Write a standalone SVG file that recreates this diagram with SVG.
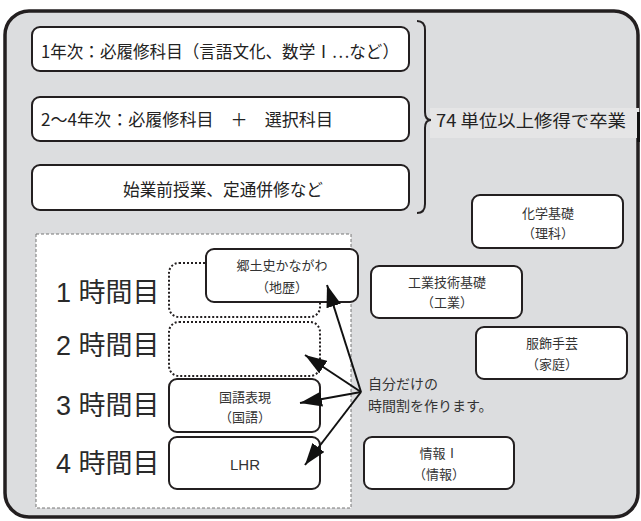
<svg xmlns="http://www.w3.org/2000/svg" width="641" height="521" viewBox="0 0 641 521">
<defs>
<style>
.box{fill:#fff;stroke:#231f20;stroke-width:2}
.slot{fill:#fff;stroke:#231f20;stroke-width:2;stroke-dasharray:2 2}
.t{font-family:'Noto Sans CJK JP','Liberation Sans',sans-serif;fill:#222}
.n{font-family:'Liberation Sans','Noto Sans CJK JP',sans-serif;fill:#333;font-size:13px;text-anchor:middle}
.m{font-family:'Liberation Sans','Noto Sans CJK JP',sans-serif;fill:#333;font-size:14px}
.p{font-family:'Liberation Sans','Noto Sans CJK JP',sans-serif;fill:#2a2a2a;font-size:27px}
.c{stroke:#111;stroke-width:2;fill:none;marker-end:url(#ah)}
</style>
<marker id="ah" viewBox="0 0 22 15" refX="22" refY="7.5" markerWidth="22" markerHeight="15" markerUnits="userSpaceOnUse" orient="auto">
<path d="M0,0 L22,7.5 L0,15 z" fill="#111"/>
</marker>
</defs>
<g id="frame">
<rect x="5" y="11" width="633" height="506" rx="24" fill="#dcdddf" stroke="#231f20" stroke-width="3.5"/>
<rect x="430" y="108" width="209" height="30" fill="#e5e5e6"/>
<line x1="638.5" y1="112" x2="638.5" y2="142" stroke="#111" stroke-width="3"/>
</g>
<g id="year1">
<rect class="box" x="32" y="27" width="377" height="44" rx="8"/>
<text class="t" x="41" y="58" font-size="17" textLength="358" lengthAdjust="spacingAndGlyphs">1年次：必履修科目（言語文化、数学Ⅰ…など）</text>
</g>
<g id="year2">
<rect class="box" x="32" y="97" width="377" height="44" rx="8"/>
<text class="t" x="41" y="126" font-size="17" textLength="292" lengthAdjust="spacingAndGlyphs">2〜4年次：必履修科目　＋　選択科目</text>
</g>
<g id="extra">
<rect class="box" x="32" y="165" width="377" height="45" rx="8"/>
<text class="t" x="223" y="196" font-size="17" text-anchor="middle" textLength="200" lengthAdjust="spacingAndGlyphs">始業前授業、定通併修など</text>
</g>
<g id="brace">
<path d="M417,21 Q425,21 425,30 L425,112 Q425,120 431,120 Q425,120 425,128 L425,204 Q425,213 417,213" fill="none" stroke="#231f20" stroke-width="2"/>
</g>
<g id="graduate">
<text class="t" x="436" y="127" font-size="17" textLength="190" lengthAdjust="spacingAndGlyphs">74 単位以上修得で卒業</text>
</g>
<g id="timetable">
<rect x="36" y="234" width="315" height="274" fill="#fff" stroke="#777" stroke-width="1" stroke-dasharray="3 2"/>
<text class="p" x="56" y="302">1 時間目</text>
<text class="p" x="56" y="355">2 時間目</text>
<text class="p" x="56" y="415">3 時間目</text>
<text class="p" x="56" y="473">4 時間目</text>
</g>
<g id="slot1"><rect class="slot" x="169" y="263" width="151" height="54" rx="10"/></g>
<g id="slot2"><rect class="slot" x="169" y="322" width="151" height="54" rx="10"/></g>
<g id="kyodoshi">
<rect class="box" x="206" y="249" width="152" height="53" rx="8"/>
<text class="n" x="282" y="270">郷土史かながわ</text>
<text class="n" x="282" y="292">（地歴）</text>
</g>
<g id="kokugo">
<rect class="box" x="169" y="379" width="151" height="53" rx="8"/>
<text class="n" x="245" y="402">国語表現</text>
<text class="n" x="245" y="422">（国語）</text>
</g>
<g id="lhr">
<rect class="box" x="169" y="437" width="151" height="52" rx="8"/>
<text class="n" x="245" y="470" style="font-size:15px">LHR</text>
</g>
<g id="kagaku">
<rect class="box" x="472" y="195" width="151" height="53" rx="8"/>
<text class="n" x="548" y="218">化学基礎</text>
<text class="n" x="548" y="238">（理科）</text>
</g>
<g id="kogyo">
<rect class="box" x="371" y="266" width="151" height="52" rx="8"/>
<text class="n" x="447" y="287">工業技術基礎</text>
<text class="n" x="447" y="307">（工業）</text>
</g>
<g id="fukushoku">
<rect class="box" x="476" y="327" width="151" height="52" rx="8"/>
<text class="n" x="552" y="348">服飾手芸</text>
<text class="n" x="552" y="369">（家庭）</text>
</g>
<g id="joho">
<rect class="box" x="364" y="437" width="150" height="52" rx="8"/>
<text class="n" x="439" y="458">情報Ⅰ</text>
<text class="n" x="439" y="479">（情報）</text>
</g>
<g id="note">
<text class="m" x="368" y="389">自分だけの</text>
<text class="m" x="368" y="411">時間割を作ります。</text>
</g>
<g id="connectors">
<line class="c" x1="361" y1="392" x2="327" y2="285"/>
<line class="c" x1="361" y1="392" x2="305" y2="355"/>
<line class="c" x1="361" y1="392" x2="300" y2="403"/>
<line class="c" x1="361" y1="392" x2="305" y2="465"/>
</g>
</svg>
